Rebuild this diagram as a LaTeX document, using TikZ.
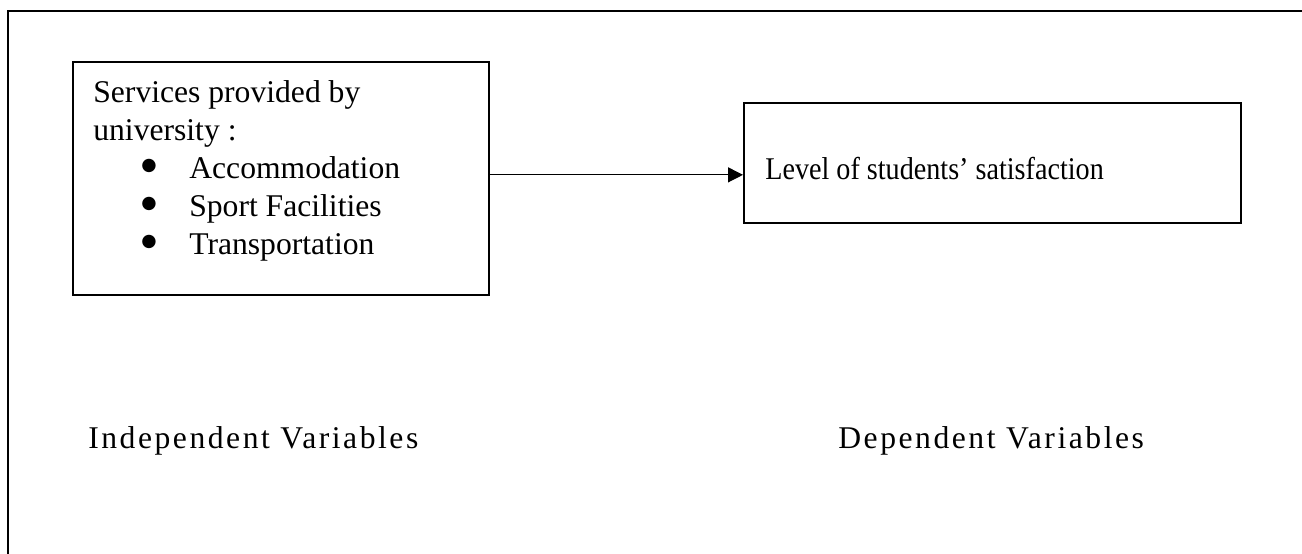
\documentclass[tikz,border=0pt]{standalone}
\usepackage{fontspec}
\setmainfont{Liberation Serif}
\newfontfamily\narrowserif[FakeStretch=0.89]{Liberation Serif}
\newfontfamily\dotfont{DejaVu Sans}
\usetikzlibrary{positioning, arrows.meta}

\newcommand{\svcitem}[1]{\hspace*{0.96cm}\makebox[0.96cm][l]{\raisebox{4.3pt}{\dotfont\fontsize{10}{0}\selectfont ●}}#1}

\tikzset{
  frame/.style={draw, line width=1.4pt},
  varbox/.style={draw, line width=1pt, anchor=north west, inner sep=0pt},
  boxtext/.style={inner sep=0pt, align=left, font=\fontsize{18}{21.6}\selectfont},
  vartitle/.style={anchor=base west, inner sep=0pt,
    font=\fontsize{18}{21.6}\selectfont\addfontfeature{LetterSpace=8}}
}

\begin{document}
\begin{tikzpicture}[x=0.02cm, y=-0.02cm]
\clip (0,0) rectangle (1302,554);
\draw[frame] (8,11) rectangle (1340,590);

\node[varbox, minimum width=8.32cm, minimum height=4.66cm] (services) at (72,61) {};
\node[varbox, minimum width=9.94cm, minimum height=2.4cm] (outcome) at (743,102) {};

\node[boxtext, anchor=north west] (servtext) at (93,80)
    {Services provided by\\university :\\
     \svcitem{Accommodation}\\
     \svcitem{Sport Facilities}\\
     \svcitem{Transportation}};
\node[boxtext, anchor=base west, font=\fontsize{18}{21.6}\narrowserif] (outtext) at (765,179)
    {Level of students’ satisfaction};

\draw[-{Triangle[length=0.3cm, width=0.3cm]}, line width=0.7pt]
    ([yshift=0.07cm]services.east) -- ([yshift=0.07cm]services.east -| outcome.west);

\node[vartitle] (indep) at (88,448) {Independent Variables};
\node[vartitle] (dep) at (838,448) {Dependent Variables};
\end{tikzpicture}
\end{document}
